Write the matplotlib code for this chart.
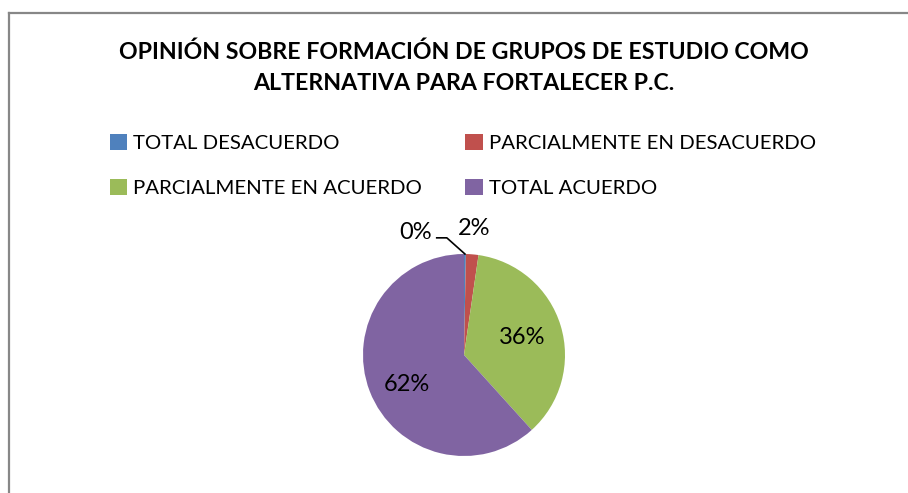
import matplotlib.pyplot as plt
from matplotlib.patches import Patch
from matplotlib.lines import Line2D
import numpy as np

plt.rcParams['font.family'] = ['Lato', 'DejaVu Sans']

# chart data
categories = ['TOTAL DESACUERDO', 'PARCIALMENTE EN DESACUERDO',
              'PARCIALMENTE EN ACUERDO', 'TOTAL ACUERDO']
values = [0.3, 2.0, 36.0, 61.7]
colors = ['#4F81BD', '#C0504D', '#9BBB59', '#8064A2']
title = 'OPINIÓN SOBRE FORMACIÓN DE GRUPOS DE ESTUDIO COMO\nALTERNATIVA PARA FORTALECER P.C.'

W, H = 908, 493
fig = plt.figure(figsize=(W / 100, H / 100), dpi=100)

# chart frame (only top and left edges are visible)
fig.add_artist(Line2D([8.5 / W, 8.5 / W], [-0.1, (H - 13) / H], color='#878787', lw=1.6))
fig.add_artist(Line2D([8.5 / W, 1.1], [(H - 13) / H, (H - 13) / H], color='#878787', lw=1.6))

fig.text(464 / W, 1 - 67.5 / H, title, ha='center', va='center', fontsize=16.7,
         fontweight='bold', linespacing=1.6)

# pie axes: centre at (464,355) px, radius 101 px
cx, cy, r = 464, 355, 101
ax = fig.add_axes([(cx - 1.5 * r) / W, (H - cy - 1.5 * r) / H, 3 * r / W, 3 * r / H])
ax.axis('off')

wedges, _ = ax.pie(values, colors=colors, startangle=90, counterclock=False,
                   radius=1.0, wedgeprops=dict(linewidth=0))
ax.set_xlim(-1.5, 1.5)
ax.set_ylim(-1.5, 1.5)

total = sum(values)
pct = ['{:.0f}%'.format(v / total * 100) for v in values]
mids = [np.deg2rad((w.theta1 + w.theta2) / 2) for w in wedges]

# inside labels (excel puts them a little off the middle angle)
ax.text(0.6 * np.cos(mids[2]), 0.6 * np.sin(mids[2]), pct[2], ha='center',
        va='center', fontsize=17)
a = mids[3] + np.deg2rad(6)
ax.text(0.64 * np.cos(a), 0.64 * np.sin(a), pct[3], ha='center',
        va='center', fontsize=17)
# 2% outside
ax.text(1.26 * np.cos(mids[1]), 1.26 * np.sin(mids[1]), pct[1], ha='center',
        va='center', fontsize=17)
# 0% with leader line
tx, ty = -0.48, 1.21
ax.text(tx, ty, pct[0], ha='center', va='center', fontsize=17)
ex, ey = np.cos(mids[0]), np.sin(mids[0])
ax.plot([-0.27, -0.17, ex], [1.16, 1.16, ey], color='black', lw=1.2,
        clip_on=False)

# legend (row-wise order)
handles = [Patch(facecolor=c, edgecolor='none') for c in colors]
order = [0, 2, 1, 3]
fig.legend([handles[i] for i in order], [categories[i] for i in order],
           ncol=2, loc='upper left', bbox_to_anchor=(110 / W, 1 - 134 / H),
           frameon=False, fontsize=14.7, handlelength=0.85, handleheight=0.85,
           handletextpad=0.3, columnspacing=2.1, labelspacing=1.3,
           borderaxespad=0, borderpad=0)

fig.savefig('out.png', dpi=100)
